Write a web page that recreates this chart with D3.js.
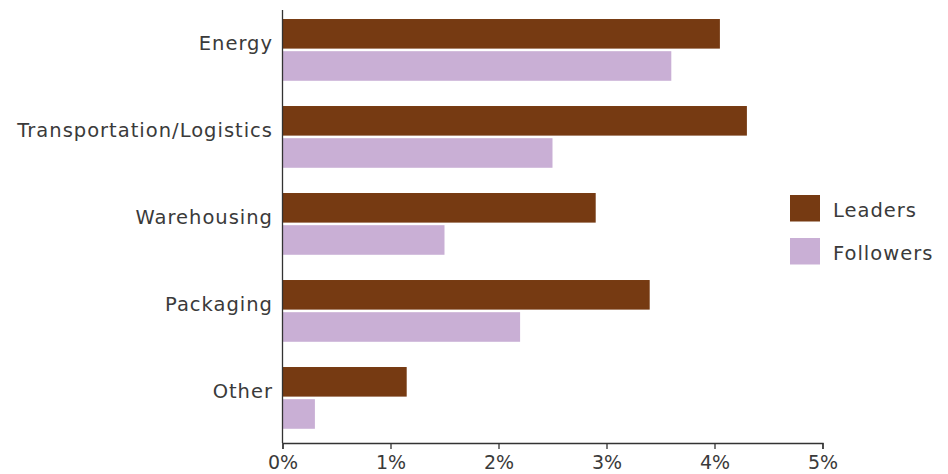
<!DOCTYPE html>
<html>
<head>
<meta charset="utf-8">
<script src="https://cdn.jsdelivr.net/npm/d3@7"></script>
<style>
  body { margin: 0; background: #fff; }
  text { font-family: "DejaVu Sans", "Noto Sans", sans-serif; fill: #3a3a3a; }
</style>
</head>
<body>
<script>
(function () {
  "use strict";

  var categories = ["Energy", "Transportation/Logistics", "Warehousing", "Packaging", "Other"];
  var seriesNames = ["Leaders", "Followers"];
  var leaders = [4.05, 4.3, 2.9, 3.4, 1.15];
  var followers = [3.6, 2.5, 1.5, 2.2, 0.3];
  var xTicks = [0, 1, 2, 3, 4, 5];
  var colors = ["#763a12", "#c9afd5"];

  var width = 948, height = 474;
  var x0 = 282.5, x1 = 822.5;

  var svg = d3.select("body").append("svg")
    .attr("width", width)
    .attr("height", height);

  var x = d3.scaleLinear().domain([0, 5]).range([x0, x1]);

  var y = d3.scaleBand()
    .domain(categories)
    .range([6.4, 441.4])
    .paddingInner(0.29)
    .paddingOuter(0.145);

  var ySub = d3.scaleBand()
    .domain(seriesNames)
    .range([0, y.bandwidth()])
    .paddingInner(0.08);

  var rows = categories.map(function (c, i) {
    return { cat: c, values: [leaders[i], followers[i]] };
  });

  var groups = svg.selectAll(".group")
    .data(rows)
    .enter().append("g")
    .attr("class", "group")
    .attr("transform", function (d) { return "translate(0," + y(d.cat) + ")"; });

  groups.selectAll("rect")
    .data(function (d) {
      return d.values.map(function (v, j) { return { key: seriesNames[j], v: v, j: j }; });
    })
    .enter().append("rect")
    .attr("x", x(0))
    .attr("y", function (d) { return ySub(d.key); })
    .attr("width", function (d) { return x(d.v) - x(0); })
    .attr("height", ySub.bandwidth())
    .attr("fill", function (d) { return colors[d.j]; });

  // category labels
  svg.selectAll(".cat")
    .data(categories)
    .enter().append("text")
    .attr("class", "cat")
    .attr("x", 273)
    .attr("y", function (d) { return y(d) + y.bandwidth() / 2; })
    .attr("text-anchor", "end")
    .style("font-size", "19.5px")
    .style("letter-spacing", "1px")
    .text(function (d) { return d; });

  // y axis line
  svg.append("line")
    .attr("x1", x0).attr("x2", x0)
    .attr("y1", 10).attr("y2", 443)
    .attr("stroke", "#333").attr("stroke-width", 1.3);

  // x axis
  var xAxis = d3.axisBottom(x)
    .tickValues(xTicks)
    .tickSize(6)
    .tickFormat(function (d) { return d + "%"; });

  var gx = svg.append("g")
    .attr("transform", "translate(0,443)")
    .call(xAxis);
  gx.select(".domain").attr("stroke", "#333").attr("stroke-width", 1.3);
  gx.selectAll(".tick line").attr("stroke", "#333").attr("stroke-width", 1.3);
  gx.selectAll(".tick text")
    .attr("y", 25.5)
    .attr("dy", 0)
    .style("font-size", "19px")
    .style("font-family", "\"DejaVu Sans\", \"Noto Sans\", sans-serif")
    .attr("fill", "#3a3a3a");

  // legend
  var legend = svg.selectAll(".legend")
    .data(seriesNames)
    .enter().append("g")
    .attr("class", "legend")
    .attr("transform", function (d, i) { return "translate(790," + (195 + i * 43) + ")"; });

  legend.append("rect")
    .attr("width", 30)
    .attr("height", 26.5)
    .attr("fill", function (d, i) { return colors[i]; });

  legend.append("text")
    .attr("x", 43)
    .attr("y", 22)
    .style("font-size", "19.5px")
    .style("letter-spacing", "1px")
    .text(function (d) { return d; });
})();
</script>
</body>
</html>
